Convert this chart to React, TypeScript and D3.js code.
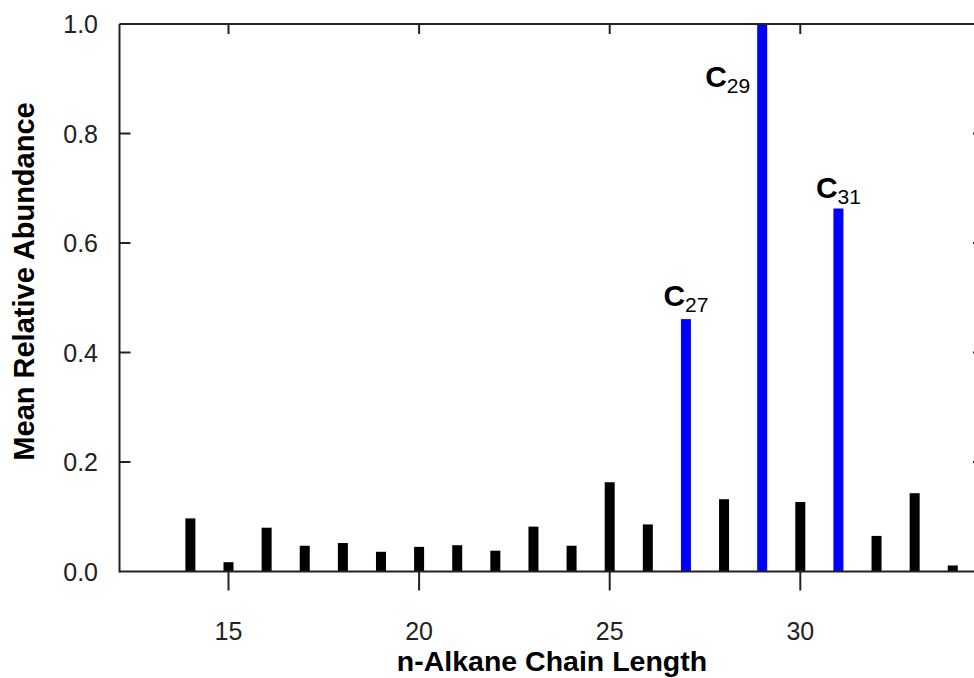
import React from "react";
import * as d3 from "d3";

const chainLengths = [14, 15, 16, 17, 18, 19, 20, 21, 22, 23, 24, 25, 26, 27, 28, 29, 30, 31, 32, 33, 34];
const abundance = [0.097, 0.017, 0.080, 0.047, 0.052, 0.036, 0.045, 0.048, 0.038, 0.082, 0.047, 0.163, 0.086, 0.461, 0.132, 1.0, 0.127, 0.663, 0.065, 0.143, 0.011];
const highlighted = [27, 29, 31];
const xTicks = [15, 20, 25, 30];
const yTicks = [0, 0.2, 0.4, 0.6, 0.8, 1.0];
const labelNums = ["27", "29", "31"];

const W = 974;
const H = 678;
const FONT = "'Liberation Sans', Arial, Helvetica, sans-serif";

export default function App() {
  const x = d3.scaleLinear().domain([15, 30]).range([228.5, 800.3]);
  const y = d3.scaleLinear().domain([0, 1]).range([571.5, 24]);
  const left = 119.5;
  const right = 984;
  const top = y(1);
  const bottom = y(0);
  const barW = 10;
  const stroke = "#222";

  const labelPlace: Record<string, { anchor: string; dx: number; dy: number }> = {
    "27": { anchor: "middle", dx: 0, dy: -13 },
    "29": { anchor: "end", dx: -12, dy: 0 },
    "31": { anchor: "middle", dx: 0, dy: -11 },
  };

  return (
    <svg
      width={W}
      height={H}
      style={{ position: "absolute", left: 0, top: 0, background: "#fff" }}
      fontFamily={FONT}
    >
      <rect x={0} y={0} width={W} height={H} fill="#fff" />
      {chainLengths.map((c, i) => {
        const isHi = highlighted.includes(c);
        return (
          <rect
            key={c}
            x={x(c) - barW / 2}
            y={y(abundance[i])}
            width={barW}
            height={y(0) - y(abundance[i])}
            fill={isHi ? "#0000ff" : "#000"}
          />
        );
      })}
      <line x1={left} x2={left} y1={top} y2={bottom + 1} stroke={stroke} strokeWidth={2} />
      <line x1={left} x2={right} y1={top} y2={top} stroke={stroke} strokeWidth={2} />
      <line x1={left} x2={right} y1={bottom} y2={bottom} stroke={stroke} strokeWidth={2} />
      <line x1={right} x2={right} y1={top} y2={bottom} stroke={stroke} strokeWidth={2} />
      {yTicks.map((t) => (
        <g key={t}>
          {t > 0 && t < 1 && (
            <>
              <line x1={left} x2={left + 11} y1={y(t)} y2={y(t)} stroke={stroke} strokeWidth={2} />
              <line x1={right - 11} x2={right} y1={y(t)} y2={y(t)} stroke={stroke} strokeWidth={2} />
            </>
          )}
          <text
            x={98}
            y={y(t)}
            dy="0.36em"
            textAnchor="end"
            fontSize={25}
            fill="#222"
          >
            {d3.format(".1f")(t)}
          </text>
        </g>
      ))}
      {xTicks.map((t) => (
        <g key={t}>
          <line x1={x(t)} x2={x(t)} y1={bottom} y2={bottom + 19} stroke={stroke} strokeWidth={2} />
          <line x1={x(t)} x2={x(t)} y1={top} y2={top + 10} stroke={stroke} strokeWidth={2} />
          <text x={x(t)} y={640} textAnchor="middle" fontSize={25} fill="#222">
            {t}
          </text>
        </g>
      ))}
      {highlighted.map((c, k) => {
        const i = chainLengths.indexOf(c);
        const p = labelPlace[labelNums[k]];
        const baseY = c === 29 ? 87 : y(abundance[i]) + p.dy;
        return (
          <text
            key={c}
            x={x(c) + p.dx}
            y={baseY}
            textAnchor={p.anchor}
            fill="#000"
          >
            <tspan fontSize={30} fontWeight="bold">C</tspan>
            <tspan fontSize={21} dy={6}>{labelNums[k]}</tspan>
          </text>
        );
      })}
      <text
        x={552}
        y={671}
        textAnchor="middle"
        fontSize={28.5}
        fontWeight="bold"
        fill="#000"
      >
        n-Alkane Chain Length
      </text>
      <text
        transform={`translate(34, ${281.5}) rotate(-90)`}
        textAnchor="middle"
        fontSize={29}
        fontWeight="bold"
        fill="#000"
      >
        Mean Relative Abundance
      </text>
    </svg>
  );
}
